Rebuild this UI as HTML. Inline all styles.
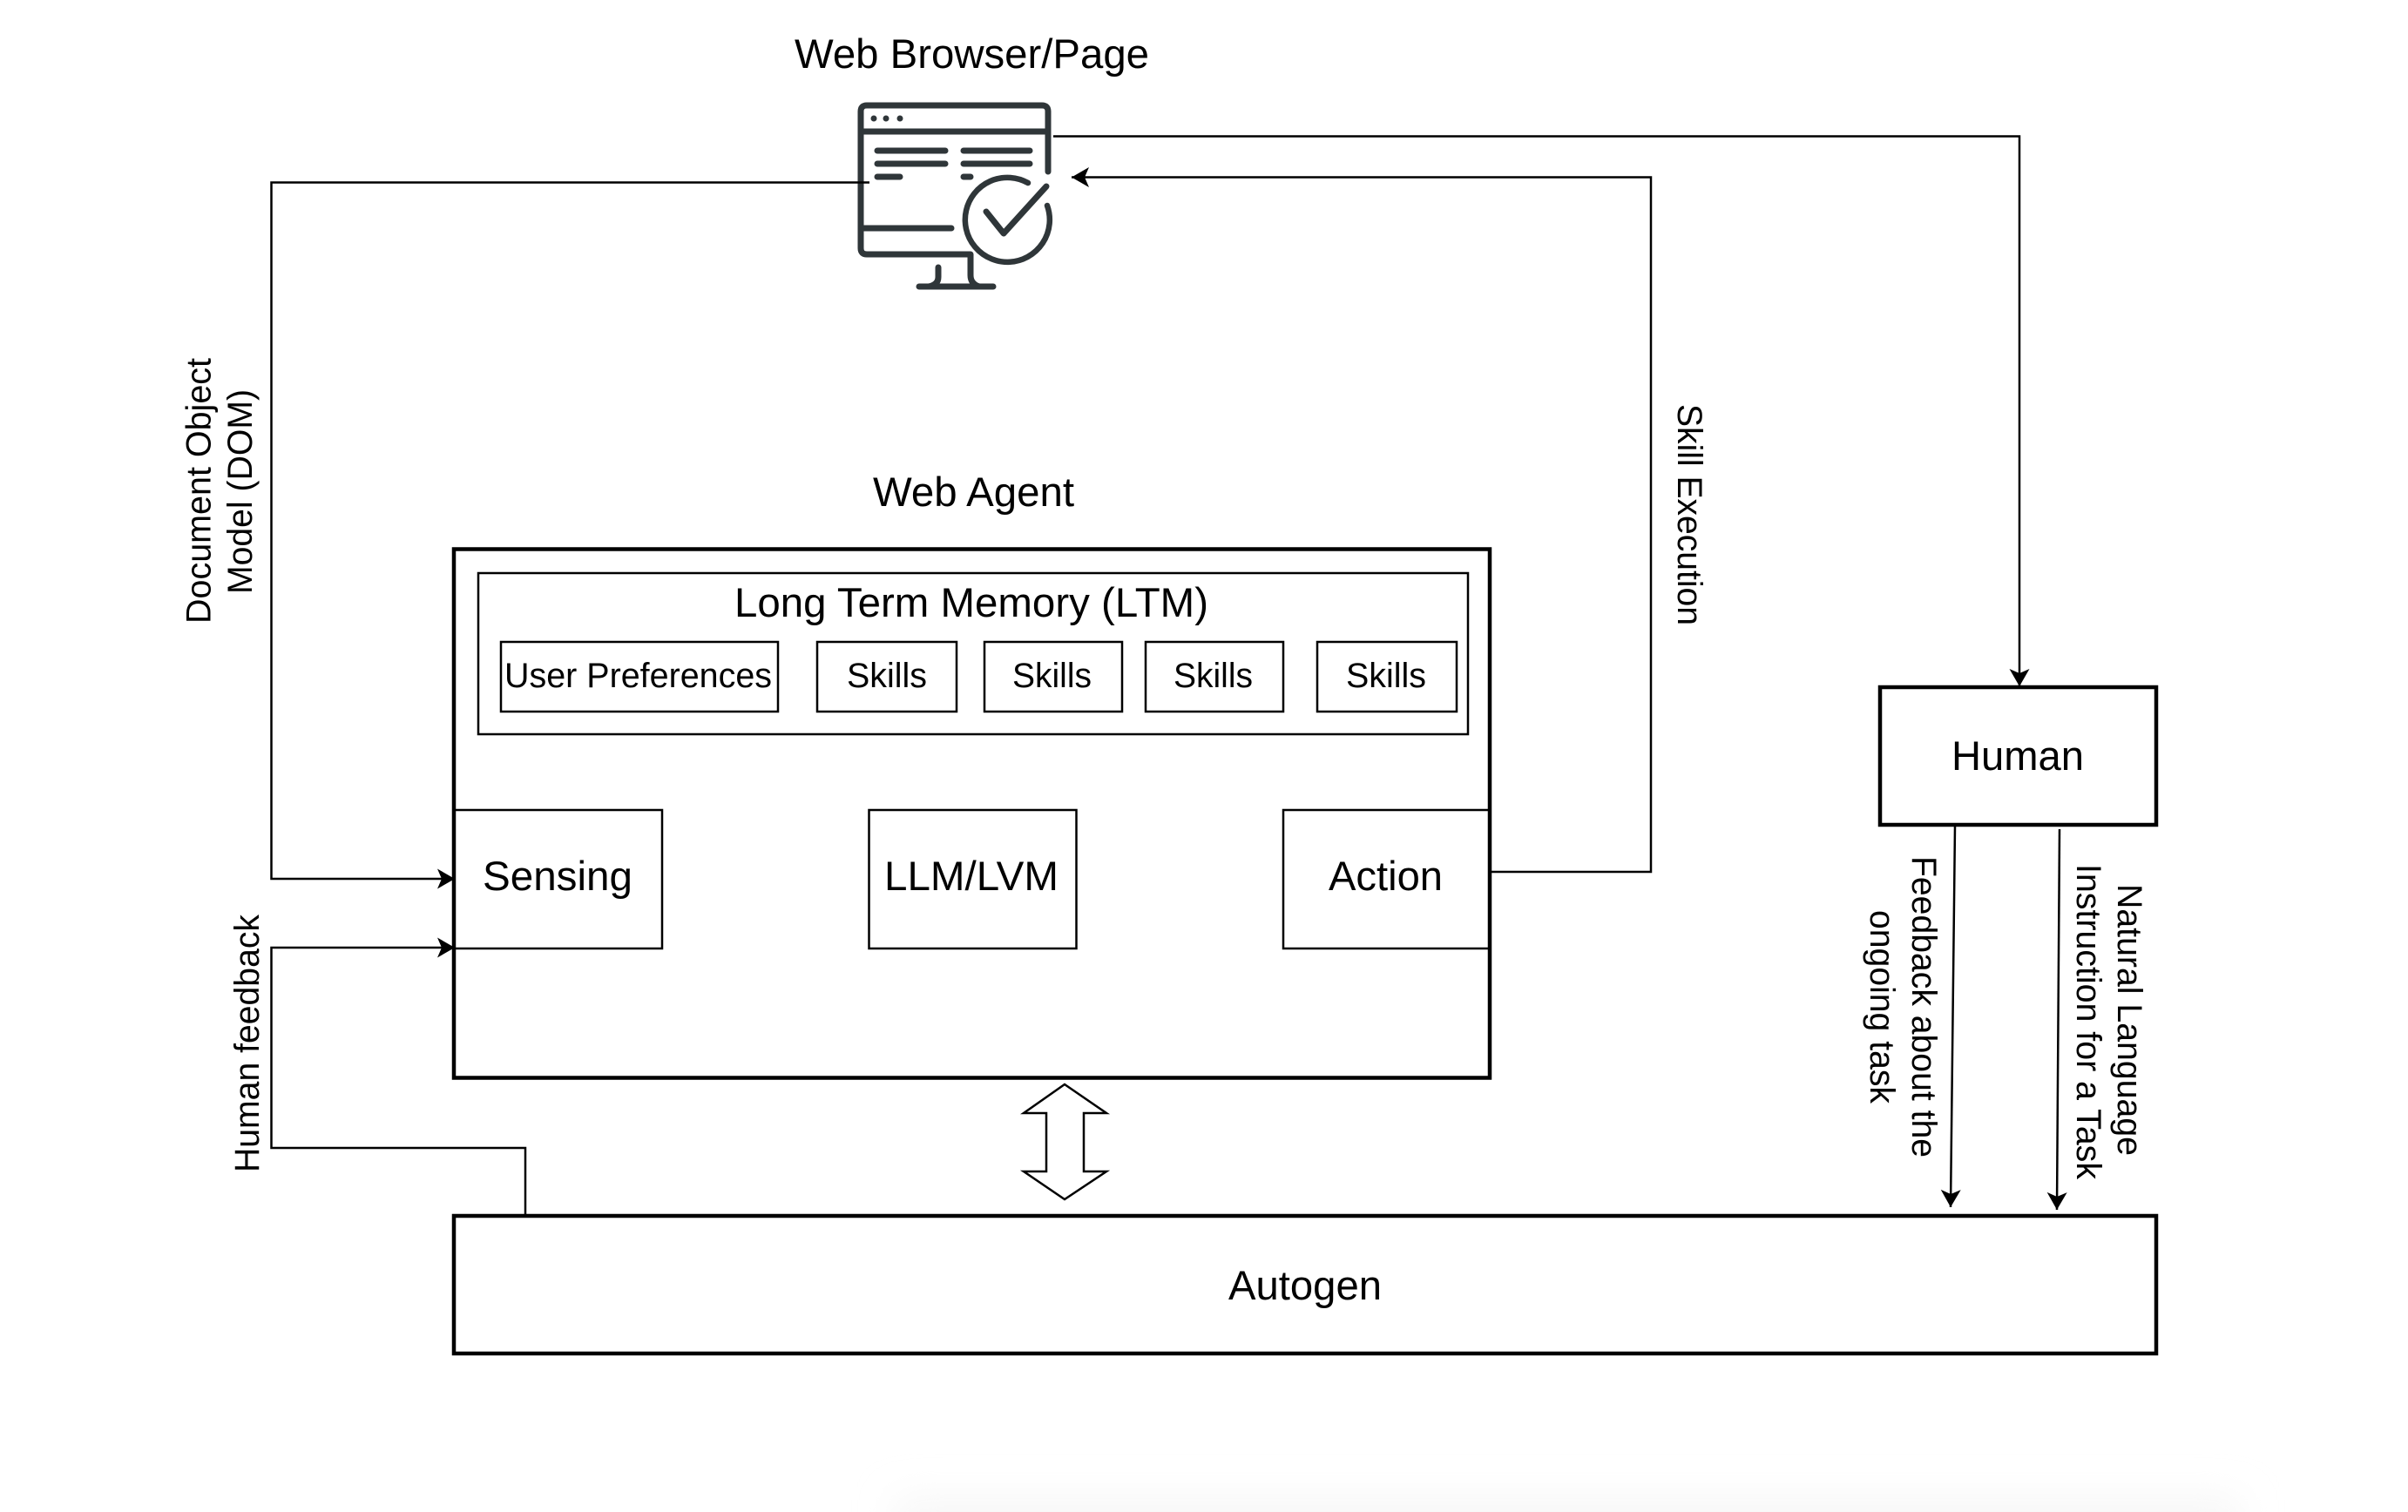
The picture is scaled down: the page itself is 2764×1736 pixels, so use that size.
<!DOCTYPE html>
<html>
<head>
<meta charset="utf-8">
<title>Web Agent Diagram</title>
<style>
html,body{margin:0;padding:0;background:#fff;width:2764px;height:1736px;overflow:hidden}
svg{display:block}
text{font-family:"Liberation Sans",Arial,sans-serif;fill:#000}
</style>
</head>
<body>
<svg xmlns="http://www.w3.org/2000/svg" width="2764" height="1736" viewBox="0 0 2764 1736">
<defs>
<marker id="a" markerUnits="userSpaceOnUse" markerWidth="24" markerHeight="26" refX="21" refY="12" orient="auto">
<path d="M21 12 L1 0.5 L6 12 L1 23.5 Z" fill="#000"/>
</marker>
<filter id="soft" x="-10%" y="-100%" width="120%" height="300%"><feGaussianBlur stdDeviation="22"/></filter>
</defs>
<rect width="2764" height="1736" fill="#fff"/>
<rect x="1030" y="1722" width="1540" height="60" fill="#f6f6f6" filter="url(#soft)"/>

<!-- Browser icon -->
<g fill="none" stroke="#2f3639" stroke-width="7" stroke-linecap="round" stroke-linejoin="round">
<path d="M1203 197 V128 Q1203 121 1196 121 H995 Q988 121 988 128 V285 Q988 292 995 292 H1114 V316 Q1114 326 1124 329"/>
<path d="M988 151 H1203"/>
<path d="M1007 173 H1085 M1007 188 H1085 M1007 203 H1033"/>
<path d="M1106 173 H1182 M1106 188 H1182 M1106 203 H1114"/>
<path d="M988 262 H1092"/>
<path d="M1077 307 V318 Q1077 327 1066 329"/>
<path d="M1055 329 H1140"/>
<path d="M1180 210 A48.5 48.5 0 1 0 1202 236" stroke-width="6.500"/>
<path d="M1132 243 L1152 268 L1201 214"/>
</g>
<circle cx="1003" cy="136" r="3.500" fill="#2f3639"/>
<circle cx="1017" cy="136" r="3.500" fill="#2f3639"/>
<circle cx="1033" cy="136" r="3.500" fill="#2f3639"/>

<!-- Web agent -->
<rect x="521" y="630.5" width="1189" height="607" fill="none" stroke="#000" stroke-width="4.5"/>
<g fill="none" stroke="#000" stroke-width="2.5">
<rect x="549" y="658" width="1136" height="185"/>
<rect x="575" y="737" width="318" height="80"/>
<rect x="938" y="737" width="160" height="80"/>
<rect x="1130" y="737" width="158" height="80"/>
<rect x="1315" y="737" width="158" height="80"/>
<rect x="1512" y="737" width="160" height="80"/>
<rect x="521" y="930" width="239" height="159"/>
<rect x="997.500" y="930" width="238" height="159"/>
<rect x="1473" y="930" width="237" height="159"/>
</g>
<rect x="2158" y="789" width="317" height="158" fill="none" stroke="#000" stroke-width="4.5"/>
<rect x="521" y="1396" width="1954" height="158" fill="none" stroke="#000" stroke-width="4.5"/>

<!-- Connectors -->
<g fill="none" stroke="#000" stroke-width="2.5">
<path d="M998 209.500 H311.500 V1009 H522" marker-end="url(#a)"/>
<path d="M603 1396 V1318 H311.500 V1088 H522" marker-end="url(#a)"/>
<path d="M1712 1001 H1895 V203.500 H1230" marker-end="url(#a)"/>
<path d="M1209 156.500 H2318 V788" marker-end="url(#a)"/>
<path d="M2244 948 L2239 1386" marker-end="url(#a)"/>
<path d="M2364 952 L2361 1389" marker-end="url(#a)"/>
<path d="M1222 1245 L1270 1278 H1244 V1345 H1270 L1222 1377 L1175 1345 H1201 V1278 H1175 Z" fill="#fff"/>
</g>

<!-- Horizontal labels -->
<g font-size="47">
<text x="912" y="78" textLength="407" lengthAdjust="spacingAndGlyphs">Web Browser/Page</text>
<text x="1002" y="581" textLength="231" lengthAdjust="spacingAndGlyphs">Web Agent</text>
<text x="843" y="708" textLength="544" lengthAdjust="spacingAndGlyphs">Long Term Memory (LTM)</text>
<text x="554" y="1022" textLength="172" lengthAdjust="spacingAndGlyphs">Sensing</text>
<text x="1015" y="1022" textLength="200" lengthAdjust="spacingAndGlyphs">LLM/LVM</text>
<text x="1525" y="1022" textLength="131" lengthAdjust="spacingAndGlyphs">Action</text>
<text x="2240" y="884" textLength="152" lengthAdjust="spacingAndGlyphs">Human</text>
<text x="1410" y="1492" textLength="176" lengthAdjust="spacingAndGlyphs">Autogen</text>
</g>
<g font-size="40">
<text x="579" y="789" textLength="307" lengthAdjust="spacingAndGlyphs">User Preferences</text>
<text x="972" y="789" textLength="92" lengthAdjust="spacingAndGlyphs">Skills</text>
<text x="1162" y="789" textLength="91" lengthAdjust="spacingAndGlyphs">Skills</text>
<text x="1347" y="789" textLength="91" lengthAdjust="spacingAndGlyphs">Skills</text>
<text x="1545" y="789" textLength="92" lengthAdjust="spacingAndGlyphs">Skills</text>
</g>

<!-- Rotated labels -->
<g font-size="40">
<text transform="translate(241.500 716) rotate(-90)" textLength="305" lengthAdjust="spacingAndGlyphs">Document Object</text>
<text transform="translate(289 682) rotate(-90)" textLength="235" lengthAdjust="spacingAndGlyphs">Model (DOM)</text>
<text transform="translate(297 1346) rotate(-90)" textLength="296" lengthAdjust="spacingAndGlyphs">Human feedback</text>
<text transform="translate(1926 464) rotate(90)" textLength="254" lengthAdjust="spacingAndGlyphs">Skill Execution</text>
<text transform="translate(2195 983) rotate(90)" textLength="346" lengthAdjust="spacingAndGlyphs">Feedback about the</text>
<text transform="translate(2147 1045) rotate(90)" textLength="222" lengthAdjust="spacingAndGlyphs">ongoing task</text>
<text transform="translate(2431 1015) rotate(90)" textLength="312" lengthAdjust="spacingAndGlyphs">Natural Language</text>
<text transform="translate(2384 992) rotate(90)" textLength="362" lengthAdjust="spacingAndGlyphs">Instruction for a Task</text>
</g>
</svg>
</body>
</html>
